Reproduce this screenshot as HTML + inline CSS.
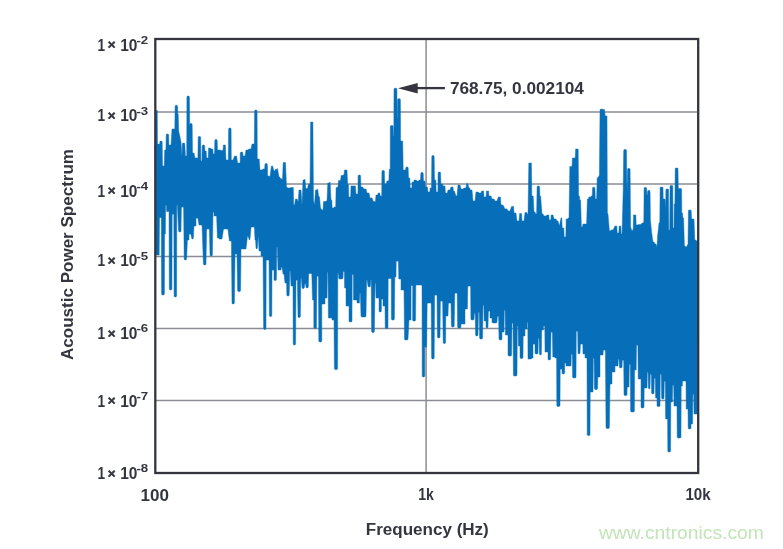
<!DOCTYPE html>
<html lang="en"><head><meta charset="utf-8"><title>Acoustic Power Spectrum</title>
<style>html,body{margin:0;padding:0;background:#fff}body{width:783px;height:549px;overflow:hidden}svg{display:block;will-change:transform}text{font-family:"Liberation Sans",sans-serif}</style></head><body>
<svg width="783" height="549" viewBox="0 0 783 549">
<rect width="783" height="549" fill="#fff"/>
<g stroke="#8b8d94" stroke-width="1.5" fill="none">
<line x1="155" y1="112.0" x2="698" y2="112.0"/>
<line x1="155" y1="184.0" x2="698" y2="184.0"/>
<line x1="155" y1="256.4" x2="698" y2="256.4"/>
<line x1="155" y1="328.5" x2="698" y2="328.5"/>
<line x1="155" y1="400.5" x2="698" y2="400.5"/>
<line x1="426.1" y1="39" x2="426.1" y2="473"/>
</g>
<path d="M154.8 146.0L155.8 146.0L155.9 110.5L157.3 110.5L157.5 146.0L157.3 144.9L157.9 144.0L159.3 144.0L159.8 144.9L159.8 150.0L159.8 141.9L160.3 141.0L161.7 141.0L162.2 141.9L162.5 166.0L163.4 166.0L164.2 166.0L164.7 150.0L165.5 150.0L165.9 150.0L166.2 134.9L166.7 134.0L168.1 134.0L168.7 134.9L168.9 145.0L170.0 145.0L171.0 145.0L172.0 129.0L174.0 129.0L174.8 129.0L175.1 106.2L175.6 105.3L177.0 105.3L177.6 106.2L177.8 114.0L178.2 114.0L178.7 131.0L179.4 134.0L181.0 142.0L182.0 157.0L182.3 143.9L182.9 143.0L184.3 143.0L184.8 143.9L185.4 156.0L186.4 156.0L186.7 156.0L186.9 96.9L187.5 96.0L188.9 96.0L189.4 96.9L189.7 124.6L189.5 125.6L189.8 124.5L190.3 123.6L191.7 123.6L192.2 124.5L192.5 153.0L193.0 153.0L194.0 153.0L195.0 158.0L197.0 158.0L197.9 158.0L198.2 137.3L198.7 136.4L200.1 136.4L200.7 137.3L200.9 161.0L201.4 161.0L201.9 161.0L202.2 145.9L202.7 145.0L204.1 145.0L204.7 145.9L204.9 151.0L205.4 151.0L206.2 151.0L206.6 158.0L208.2 158.0L208.6 148.0L210.4 148.0L211.0 149.0L212.8 149.0L213.2 154.0L214.0 154.0L214.5 154.0L214.8 140.5L215.3 139.6L216.7 139.6L217.2 140.5L217.5 150.0L218.0 150.0L220.0 150.0L221.0 150.4L223.0 150.4L223.4 145.0L225.4 145.0L226.0 160.0L228.0 160.0L228.3 160.0L228.6 128.9L229.1 128.0L230.5 128.0L231.1 128.9L231.3 160.0L232.0 160.0L233.0 160.0L234.6 156.0L236.6 156.0L237.6 163.0L239.6 163.0L240.1 163.0L240.3 152.9L240.9 152.0L242.3 152.0L242.8 152.9L243.1 156.0L244.0 156.0L245.0 156.0L246.0 150.0L248.0 150.0L249.0 149.0L251.0 149.0L252.0 144.0L254.0 144.0L254.3 144.0L254.6 110.9L255.1 110.0L256.5 110.0L257.1 110.9L257.3 159.0L258.2 159.0L259.2 159.0L260.0 170.0L262.0 170.0L263.0 169.0L264.0 169.0L264.7 169.0L264.9 164.5L265.5 163.6L266.9 163.6L267.4 164.5L267.7 176.0L268.6 176.0L270.0 176.5L271.4 166.0L272.6 166.0L274.0 171.0L274.8 171.0L275.2 169.5L276.0 169.5L277.5 168.5L279.0 177.0L279.8 177.0L280.2 178.5L281.0 178.5L282.5 179.5L283.2 162.5L284.1 162.5L284.6 162.5L285.5 162.5L286.5 187.0L288.0 188.0L289.0 188.0L291.5 187.5L293.3 187.5L293.7 205.0L294.5 205.0L295.5 199.0L297.0 199.0L298.2 202.0L299.0 190.0L299.8 190.0L300.2 190.0L301.0 190.0L302.0 205.0L303.0 180.0L303.8 180.0L304.2 179.5L305.0 179.5L305.8 188.5L307.5 188.5L308.5 184.0L310.0 184.0L310.6 122.0L311.6 122.0L311.9 122.0L312.9 122.0L313.5 200.0L314.5 205.0L315.5 190.0L316.4 190.0L316.9 189.5L317.8 189.5L318.5 196.0L319.5 197.0L320.5 208.0L322.0 210.0L323.0 210.0L323.5 201.5L325.5 201.5L326.0 201.0L327.0 201.0L327.8 183.0L328.8 183.0L329.2 182.5L330.2 182.5L331.0 200.0L331.8 200.0L332.2 208.0L333.8 208.0L334.2 207.0L335.7 207.0L336.1 187.5L336.8 187.5L338.0 187.0L338.5 180.5L339.3 180.5L339.7 180.5L340.5 180.5L341.2 175.5L342.2 175.5L343.0 175.0L344.0 175.0L344.5 170.0L345.5 170.0L346.0 170.0L347.0 170.0L347.6 184.0L348.4 184.0L348.8 197.0L350.6 197.0L351.0 186.0L353.0 186.0L353.4 186.0L355.4 186.0L356.0 194.0L357.0 194.0L357.9 194.0L358.1 175.9L358.7 175.0L360.1 175.0L360.6 175.9L360.9 187.0L361.6 187.0L362.6 187.0L364.0 189.0L366.0 189.0L367.0 193.0L369.0 193.0L370.0 198.0L372.0 198.0L373.4 201.6L375.4 201.6L376.0 195.0L377.8 195.0L378.2 193.0L379.8 193.0L380.2 196.0L381.0 196.0L381.7 196.0L381.9 171.3L382.5 170.4L383.9 170.4L384.4 171.3L384.7 184.0L385.2 184.0L386.2 184.0L387.0 181.0L388.0 181.0L388.9 180.5L389.2 169.3L390.2 169.3L390.3 126.4L390.8 125.6L391.6 125.6L391.9 125.6L392.7 125.6L393.1 126.4L393.4 136.0L393.8 136.0L394.0 89.0L394.5 88.2L395.2 88.2L395.6 88.2L396.4 88.2L396.9 89.0L397.1 118.0L397.4 118.0L397.6 99.6L398.1 98.8L398.9 98.8L399.2 98.8L400.0 98.8L400.4 99.6L400.6 141.0L401.4 141.0L401.9 141.0L402.7 141.0L403.2 170.0L404.5 170.0L405.5 170.0L405.8 167.9L406.3 167.0L407.7 167.0L408.2 167.9L408.5 178.0L409.0 178.0L409.8 178.0L410.2 188.0L411.8 188.0L412.2 182.0L413.8 182.0L414.2 180.0L416.0 180.0L417.0 181.0L418.8 181.0L419.2 180.0L420.0 180.0L420.5 180.0L420.8 173.3L421.3 172.4L422.7 172.4L423.2 173.3L423.5 181.0L424.0 181.0L425.0 181.0L425.4 187.0L427.4 187.0L428.0 192.0L429.8 192.0L430.2 188.0L431.0 188.0L431.5 188.0L431.8 156.5L432.3 155.6L433.7 155.6L434.2 156.5L434.5 180.0L435.0 180.0L435.8 180.0L436.2 192.0L437.0 192.0L437.9 192.0L438.1 172.9L438.7 172.0L440.1 172.0L440.6 172.9L440.9 184.0L441.6 184.0L442.6 184.0L443.0 186.0L445.0 186.0L445.4 193.0L447.4 193.0L448.0 190.0L450.0 190.0L451.0 187.0L453.0 187.0L453.4 191.0L454.4 191.0L456.0 196.0L457.0 196.0L458.0 185.0L460.0 185.0L461.0 189.0L463.0 189.0L464.0 188.0L466.0 188.0L466.6 183.6L467.6 183.6L469.0 188.0L469.8 188.0L470.2 190.0L472.0 190.0L473.0 201.0L475.0 201.0L476.0 192.0L478.0 192.0L479.0 193.0L481.0 193.0L481.6 191.0L483.6 191.0L484.0 197.0L486.0 197.0L486.6 191.0L488.6 191.0L489.0 196.0L491.0 196.0L492.0 199.0L494.0 199.0L495.0 201.0L497.0 201.0L498.4 197.0L500.4 197.0L501.0 205.0L503.0 205.0L505.0 209.0L507.0 209.0L508.0 211.0L510.0 211.0L511.6 206.4L513.6 206.4L514.0 213.0L516.0 213.0L517.0 221.0L519.0 221.0L519.6 213.6L521.6 213.6L522.0 221.0L524.0 221.0L525.0 212.4L526.8 212.4L527.2 214.0L528.0 214.0L528.8 163.0L529.8 163.0L530.4 163.0L531.4 163.0L531.8 196.0L533.2 196.0L534.0 212.0L535.0 212.0L535.6 214.0L536.6 214.0L537.1 186.9L537.7 186.0L539.1 186.0L539.6 186.9L539.9 196.0L540.6 196.0L542.0 214.0L543.0 214.0L544.0 216.0L546.0 216.0L547.0 215.0L548.8 215.0L549.2 220.0L550.8 220.0L551.2 215.0L553.0 215.0L554.0 219.0L556.0 219.0L557.0 221.0L558.0 221.0L559.4 226.0L561.0 218.0L561.8 218.0L562.2 228.0L563.8 228.0L564.2 237.0L565.8 237.0L566.2 219.0L567.8 219.0L568.2 218.0L569.0 218.0L569.8 166.4L570.7 166.4L571.1 166.4L572.0 166.4L572.4 158.0L573.4 158.0L574.2 158.0L575.2 158.0L575.6 149.0L576.6 149.0L577.2 149.0L578.2 149.0L578.6 196.0L579.4 196.0L579.8 200.0L580.6 200.0L581.4 227.0L582.4 227.0L583.0 224.0L585.0 224.0L585.6 224.0L586.6 224.0L587.4 199.0L588.4 199.0L589.0 197.0L590.9 197.0L591.3 196.0L592.2 196.0L592.6 187.4L593.5 187.4L594.0 187.4L594.9 187.4L595.3 199.0L596.6 199.0L597.2 178.0L598.4 177.0L599.4 175.0L600.0 110.0L600.8 109.0L601.8 109.0L603.5 109.5L604.5 109.5L605.2 116.0L605.9 116.0L606.3 116.0L607.0 116.0L607.4 213.0L608.0 214.0L609.4 231.0L610.4 231.0L611.0 230.0L613.0 230.0L615.0 226.0L616.8 226.0L617.2 233.0L618.8 233.0L619.2 226.0L620.8 226.0L621.2 234.0L622.0 234.0L623.2 190.0L623.7 150.4L624.2 149.6L625.0 149.6L625.4 149.6L626.1 149.6L626.5 150.4L626.8 180.0L627.1 192.0L627.5 169.2L628.0 168.4L628.6 168.4L629.1 168.4L629.7 168.4L630.1 169.2L630.6 227.0L632.0 231.0L633.2 229.0L633.5 215.0L634.4 215.0L634.9 215.0L635.8 215.0L636.2 225.0L637.2 225.0L639.0 224.4L641.0 224.4L642.0 223.0L643.0 223.0L643.8 222.0L644.1 188.2L644.5 187.5L645.2 187.5L645.6 187.5L646.3 187.5L646.7 189.0L646.9 195.0L647.3 195.0L647.6 191.2L648.0 190.5L648.6 190.5L649.1 190.5L649.7 190.5L650.1 192.0L650.4 220.0L651.6 232.0L653.0 242.0L654.0 242.0L655.0 244.0L656.0 244.0L657.0 247.0L657.6 236.0L659.0 223.0L659.8 222.0L660.1 188.0L660.5 187.0L661.4 187.0L661.8 187.0L662.6 187.0L663.0 188.0L663.2 199.0L664.8 199.0L665.2 200.0L665.6 210.0L665.9 190.0L666.3 189.0L667.0 189.0L667.5 189.0L668.2 189.0L668.5 190.0L668.8 230.0L669.7 230.0L670.0 186.5L670.4 185.5L671.2 185.5L671.6 185.5L672.4 185.5L672.8 186.5L673.0 228.0L674.0 228.0L674.2 204.0L674.9 204.0L675.2 169.0L675.6 168.0L676.4 168.0L676.8 168.0L677.6 168.0L678.0 169.0L678.3 188.5L679.3 188.5L680.2 188.5L681.2 188.5L681.6 190.0L681.8 213.0L682.5 213.0L682.9 218.0L683.6 218.0L684.4 246.0L685.2 246.0L685.6 247.0L686.4 247.0L688.0 244.0L688.4 211.0L688.8 210.0L689.6 210.0L690.0 210.0L690.8 210.0L691.2 211.0L691.6 219.0L692.6 219.0L693.0 219.0L694.0 219.0L694.8 240.0L695.8 240.0L696.5 241.0L698.5 241.0L697.5 414.0L694.0 414.0L693.7 394.8L693.4 394.0L693.2 394.0L692.9 394.8L692.6 424.0L691.0 424.0L691.0 428.1L690.4 429.0L688.8 429.0L688.2 428.1L688.0 409.0L686.2 409.0L686.0 381.8L685.5 381.0L682.9 381.0L682.4 381.8L682.4 386.0L681.2 386.0L681.0 437.1L680.4 438.0L677.8 438.0L677.2 437.1L677.0 406.0L674.0 406.0L673.7 385.8L673.3 385.0L673.1 385.0L672.7 385.8L672.4 402.0L670.8 402.0L670.6 451.1L670.0 452.0L668.4 452.0L667.8 451.1L667.6 419.0L665.6 419.0L665.3 381.8L664.9 381.0L664.7 381.0L664.3 381.8L664.0 398.1L663.4 399.0L662.2 399.0L661.6 398.1L661.3 374.8L660.9 374.0L660.7 374.0L660.3 374.8L660.0 405.7L659.4 406.6L657.6 406.6L657.0 405.7L657.0 398.0L655.6 398.0L655.3 378.8L654.9 378.0L654.7 378.0L654.3 378.8L654.0 393.1L653.4 394.0L652.2 394.0L651.6 393.1L651.3 374.8L650.9 374.0L650.7 374.0L650.3 374.8L650.0 388.1L649.4 389.0L649.0 389.0L648.4 388.1L648.1 372.8L647.8 372.0L647.6 372.0L647.3 372.8L647.0 388.0L644.2 388.0L644.0 407.1L643.4 408.0L641.6 408.0L641.0 407.1L641.0 379.0L638.2 379.0L637.9 345.8L637.4 345.0L637.0 345.0L636.5 345.8L636.2 370.0L634.6 370.0L634.4 411.1L633.8 412.0L631.2 412.0L630.6 411.1L630.3 364.8L629.9 364.0L629.7 364.0L629.3 364.8L629.0 387.0L627.2 387.0L627.0 394.7L626.4 395.6L624.6 395.6L624.0 394.7L623.7 360.8L623.2 360.0L622.8 360.0L622.3 360.8L622.0 367.1L621.4 368.0L620.0 368.0L619.4 367.1L619.1 359.8L618.8 359.0L618.6 359.0L618.3 359.8L618.0 366.0L615.0 366.0L615.0 372.0L612.0 372.0L612.0 384.0L610.0 384.0L609.4 427.5L608.8 428.4L606.6 428.4L606.0 427.5L605.4 350.8L604.9 350.0L603.8 350.0L603.3 350.8L603.0 355.0L600.0 355.0L600.0 377.0L597.8 377.0L597.6 388.6L597.0 389.5L595.0 389.5L594.4 388.6L594.1 358.8L593.8 358.0L593.6 358.0L593.3 358.8L593.0 392.0L590.2 392.0L590.0 434.7L589.4 435.6L587.8 435.6L587.2 434.7L587.0 358.0L585.0 358.0L585.0 354.0L583.0 354.0L582.8 344.8L582.3 344.0L580.9 344.0L580.4 344.8L580.0 353.1L579.4 354.0L578.6 354.0L578.0 353.1L577.7 331.8L577.2 331.0L576.8 331.0L576.3 331.8L576.0 377.1L575.4 378.0L573.2 378.0L572.6 377.1L572.3 354.8L571.9 354.0L571.7 354.0L571.3 354.8L571.0 366.0L566.0 366.0L566.0 363.0L564.8 363.0L564.6 373.1L564.0 374.0L562.6 374.0L562.0 373.1L562.0 369.8L561.5 369.0L560.7 369.0L560.2 369.8L560.0 405.5L559.4 406.4L557.4 406.4L556.8 405.5L556.6 358.0L555.0 358.0L555.0 357.0L552.8 357.0L552.4 332.8L551.9 332.0L551.5 332.0L551.0 332.8L550.6 359.1L550.0 360.0L548.6 360.0L548.0 359.1L548.0 352.0L545.0 352.0L544.8 326.8L544.3 326.0L543.9 326.0L543.4 326.8L543.4 330.0L541.7 330.0L541.4 354.1L540.8 355.0L540.0 355.0L539.4 354.1L539.1 338.8L538.8 338.0L538.6 338.0L538.3 338.8L538.0 353.1L537.4 354.0L535.6 354.0L535.0 353.1L535.0 344.8L534.5 344.0L533.5 344.0L533.0 344.8L533.0 358.0L531.4 358.0L531.4 359.0L528.0 359.0L527.8 322.8L527.6 322.0L527.4 322.0L527.2 322.8L527.0 329.0L525.0 329.0L525.0 336.0L523.2 336.0L523.0 357.5L522.4 358.4L520.6 358.4L520.0 357.5L520.0 346.0L518.4 346.0L518.1 326.8L517.8 326.0L517.6 326.0L517.3 326.8L517.0 375.1L516.4 376.0L514.0 376.0L513.4 375.1L513.0 323.8L512.6 323.0L512.4 323.0L512.0 323.8L511.6 355.1L511.0 356.0L508.6 356.0L508.0 355.1L508.0 335.0L505.4 335.0L505.1 310.8L504.8 310.0L504.6 310.0L504.3 310.8L504.0 332.0L502.0 332.0L502.0 339.1L501.4 340.0L499.6 340.0L499.0 339.1L498.6 316.8L498.2 316.0L497.8 316.0L497.4 316.8L497.0 322.1L496.4 323.0L492.6 323.0L492.0 322.1L492.0 318.0L490.0 318.0L490.0 311.8L489.5 311.0L488.9 311.0L488.4 311.8L488.0 327.1L487.4 328.0L486.6 328.0L486.0 327.1L486.0 321.0L484.2 321.0L483.8 305.8L483.5 305.0L483.3 305.0L483.0 305.8L482.6 338.1L482.0 339.0L480.2 339.0L479.6 338.1L479.2 312.8L478.9 312.0L478.7 312.0L478.4 312.8L478.0 335.1L477.4 336.0L476.2 336.0L475.6 335.1L475.2 313.8L474.9 313.0L474.7 313.0L474.4 313.8L474.0 319.1L473.4 320.0L471.5 320.0L470.9 319.1L470.6 286.8L470.1 286.0L468.3 286.0L467.8 286.8L467.4 309.0L465.0 309.0L465.0 324.0L461.0 324.0L461.0 327.1L460.4 328.0L458.2 328.0L457.6 327.1L457.2 293.8L456.7 293.0L455.3 293.0L454.8 293.8L454.2 326.1L453.6 327.0L452.0 327.0L451.4 326.1L451.0 303.8L450.5 303.0L448.9 303.0L448.4 303.8L448.0 316.0L445.8 316.0L445.6 342.7L445.0 343.6L443.8 343.6L443.2 342.7L442.6 301.8L442.1 301.0L440.9 301.0L440.4 301.8L440.0 337.1L439.4 338.0L438.0 338.0L437.4 337.1L437.0 295.8L436.5 295.0L435.1 295.0L434.6 295.8L434.2 358.1L433.6 359.0L432.2 359.0L431.6 358.1L431.2 303.8L430.7 303.0L427.7 303.0L427.2 303.8L426.6 347.0L424.8 347.0L424.8 376.1L424.2 377.0L422.8 377.0L422.2 376.1L422.0 285.8L421.5 285.0L416.3 285.0L415.8 285.8L415.6 320.1L415.0 321.0L413.2 321.0L412.6 320.1L412.7 286.3L412.2 285.5L411.6 285.5L411.1 286.3L411.0 320.0L409.0 320.0L408.0 339.1L407.4 340.0L405.1 340.0L404.5 339.1L404.0 290.0L401.0 290.0L401.0 279.0L398.8 279.0L398.4 261.8L397.9 261.0L396.7 261.0L396.2 261.8L396.0 277.0L394.8 277.0L394.4 319.1L393.8 320.0L392.0 320.0L391.4 319.1L391.3 279.3L390.8 278.5L388.7 278.5L388.2 279.3L388.0 327.5L387.4 328.4L385.8 328.4L385.2 327.5L385.0 306.0L383.0 306.0L383.0 299.8L382.5 299.0L381.9 299.0L381.4 299.8L381.4 311.1L380.8 312.0L379.6 312.0L379.0 311.1L379.0 298.0L376.0 298.0L375.6 283.8L375.4 283.0L375.2 283.0L375.0 283.8L374.4 331.5L373.8 332.4L372.2 332.4L371.6 331.5L371.2 280.8L371.1 280.0L370.9 280.0L370.8 280.8L370.4 286.1L369.8 287.0L368.6 287.0L368.0 286.1L367.2 280.8L367.0 280.0L366.8 280.0L366.6 280.8L366.0 316.1L365.4 317.0L361.6 317.0L361.0 316.1L360.4 293.8L360.2 293.0L360.0 293.0L359.8 293.8L359.4 303.0L357.0 303.0L357.0 300.0L353.4 300.0L353.4 275.3L353.0 274.5L352.6 274.5L352.2 275.3L352.0 321.1L351.4 322.0L349.6 322.0L349.0 321.1L349.0 306.0L346.0 306.0L346.0 288.0L344.6 288.0L344.4 272.3L344.0 271.5L343.6 271.5L343.2 272.3L343.0 278.1L342.4 279.0L339.3 279.0L338.7 278.1L338.5 274.3L338.3 273.5L338.0 273.5L337.8 274.3L337.6 368.7L337.0 369.6L335.0 369.6L334.4 368.7L334.0 320.0L332.0 320.0L332.0 318.0L328.4 318.0L328.0 272.8L327.8 272.0L327.6 272.0L327.4 272.8L327.0 298.0L325.0 298.0L325.0 304.0L321.8 304.0L321.8 341.1L321.2 342.0L319.4 342.0L318.8 341.1L318.4 276.8L317.9 276.0L317.4 276.0L316.9 276.8L316.5 327.6L315.9 328.5L314.4 328.5L313.8 327.6L313.8 300.0L312.5 300.0L311.8 274.3L311.3 273.5L309.2 273.5L308.7 274.3L308.3 287.1L307.7 288.0L306.6 288.0L306.0 287.1L305.6 284.3L305.3 283.5L305.1 283.5L304.8 284.3L304.4 287.6L303.8 288.5L302.6 288.5L302.0 287.6L301.4 278.8L301.2 278.0L301.0 278.0L300.8 278.8L300.4 316.7L299.8 317.6L298.6 317.6L298.0 316.7L297.4 280.8L296.9 280.0L296.5 280.0L296.0 280.8L295.6 344.1L295.0 345.0L293.8 345.0L293.2 344.1L293.0 286.0L291.0 286.0L290.4 271.8L290.2 271.0L290.0 271.0L289.8 271.8L289.2 295.1L288.6 296.0L287.4 296.0L286.8 295.1L286.6 283.0L285.0 283.0L284.0 274.0L283.0 274.0L282.0 267.0L281.4 267.0L281.0 270.0L278.0 270.0L277.4 247.8L277.2 247.0L277.0 247.0L276.8 247.8L276.4 279.7L275.8 280.6L274.6 280.6L274.0 279.7L274.0 270.8L273.5 270.0L272.5 270.0L272.0 270.8L271.8 315.7L271.2 316.6L270.0 316.6L269.4 315.7L269.0 260.8L268.5 260.0L266.7 260.0L266.2 260.8L266.0 328.5L265.4 329.4L264.2 329.4L263.6 328.5L263.0 256.0L261.0 256.0L261.0 251.0L259.0 251.0L258.4 237.0L258.2 237.0L257.4 248.1L256.8 249.0L256.6 249.0L256.0 248.1L255.6 240.0L255.0 240.0L254.4 227.8L253.9 227.0L251.5 227.0L251.0 227.8L250.0 239.1L249.6 240.0L249.4 240.0L249.0 239.1L248.2 236.8L247.9 236.0L247.7 236.0L247.4 236.8L246.0 249.0L241.0 249.0L240.6 290.7L240.0 291.6L238.2 291.6L237.6 290.7L237.0 254.8L236.5 254.0L235.5 254.0L235.0 254.8L234.4 303.1L233.8 304.0L232.6 304.0L232.0 303.1L231.4 241.0L229.4 241.0L228.0 229.8L227.5 229.0L223.9 229.0L223.4 229.8L222.0 239.0L219.0 239.0L219.0 238.0L217.4 238.0L216.6 216.0L214.0 216.0L214.0 212.8L213.6 212.0L213.4 212.0L213.0 212.8L212.4 255.1L211.8 256.0L210.6 256.0L210.0 255.1L209.4 229.8L208.9 229.0L207.1 229.0L206.6 229.8L206.0 264.1L205.4 265.0L204.0 265.0L203.4 264.1L202.0 225.0L199.0 225.0L198.0 218.8L197.5 218.0L196.5 218.0L196.0 218.8L196.0 226.0L194.0 226.0L193.4 238.1L192.8 239.0L192.2 239.0L191.6 238.1L191.0 234.8L190.5 234.0L189.5 234.0L189.0 234.8L189.0 240.0L187.4 240.0L186.6 259.1L186.0 260.0L184.8 260.0L184.2 259.1L183.6 207.8L183.1 207.0L181.9 207.0L181.4 207.8L181.0 231.1L180.4 232.0L179.2 232.0L178.6 231.1L177.4 205.8L177.2 205.0L177.0 205.0L176.8 205.8L176.6 296.1L176.0 297.0L174.7 297.0L174.1 296.1L173.8 214.8L173.3 214.0L172.7 214.0L172.2 214.8L171.9 289.1L171.3 290.0L169.9 290.0L169.3 289.1L169.0 211.5L166.6 211.5L166.4 205.8L166.1 205.0L165.9 205.0L165.6 205.8L165.4 234.0L164.6 234.0L164.4 294.1L163.8 295.0L162.2 295.0L161.6 294.1L161.3 218.3L160.8 217.5L160.0 217.5L159.5 218.3L159.2 255.0L156.0 255.0Z" fill="#076fba" stroke="#076fba" stroke-width="0.45" stroke-linejoin="round"/>
<rect x="155.3" y="39" width="542.9" height="434" fill="none" stroke="#33363f" stroke-width="2.3"/>
<path d="M398.0 88.2L417.7 82.9L417.7 93.5Z" fill="#33363f"/>
<line x1="417" y1="88.1" x2="444.9" y2="88.1" stroke="#33363f" stroke-width="2.3"/>
<text x="449.9" y="94.0" font-size="16" font-weight="bold" fill="#33363f" textLength="134.0" lengthAdjust="spacingAndGlyphs">768.75, 0.002104</text>
<text x="97.4" y="50.6" font-size="16" font-weight="bold" fill="#33363f" textLength="7.6" lengthAdjust="spacingAndGlyphs">1</text>
<text x="107.7" y="49.4" font-size="13.5" font-weight="bold" fill="#33363f" textLength="7.8" lengthAdjust="spacingAndGlyphs" stroke="#33363f" stroke-width="0.6">×</text>
<text x="120.2" y="50.6" font-size="16" font-weight="bold" fill="#33363f" textLength="17.2" lengthAdjust="spacingAndGlyphs">10</text>
<text x="136.4" y="44.0" font-size="11.8" font-weight="bold" fill="#33363f" textLength="11.8" lengthAdjust="spacingAndGlyphs">-2</text>
<text x="97.4" y="121.2" font-size="16" font-weight="bold" fill="#33363f" textLength="7.6" lengthAdjust="spacingAndGlyphs">1</text>
<text x="107.7" y="120.0" font-size="13.5" font-weight="bold" fill="#33363f" textLength="7.8" lengthAdjust="spacingAndGlyphs" stroke="#33363f" stroke-width="0.6">×</text>
<text x="120.2" y="121.2" font-size="16" font-weight="bold" fill="#33363f" textLength="17.2" lengthAdjust="spacingAndGlyphs">10</text>
<text x="136.4" y="114.6" font-size="11.8" font-weight="bold" fill="#33363f" textLength="11.8" lengthAdjust="spacingAndGlyphs">-3</text>
<text x="97.4" y="196.5" font-size="16" font-weight="bold" fill="#33363f" textLength="7.6" lengthAdjust="spacingAndGlyphs">1</text>
<text x="107.7" y="195.3" font-size="13.5" font-weight="bold" fill="#33363f" textLength="7.8" lengthAdjust="spacingAndGlyphs" stroke="#33363f" stroke-width="0.6">×</text>
<text x="120.2" y="196.5" font-size="16" font-weight="bold" fill="#33363f" textLength="17.2" lengthAdjust="spacingAndGlyphs">10</text>
<text x="136.4" y="189.9" font-size="11.8" font-weight="bold" fill="#33363f" textLength="11.8" lengthAdjust="spacingAndGlyphs">-4</text>
<text x="97.4" y="266.2" font-size="16" font-weight="bold" fill="#33363f" textLength="7.6" lengthAdjust="spacingAndGlyphs">1</text>
<text x="107.7" y="265.0" font-size="13.5" font-weight="bold" fill="#33363f" textLength="7.8" lengthAdjust="spacingAndGlyphs" stroke="#33363f" stroke-width="0.6">×</text>
<text x="120.2" y="266.2" font-size="16" font-weight="bold" fill="#33363f" textLength="17.2" lengthAdjust="spacingAndGlyphs">10</text>
<text x="136.4" y="259.6" font-size="11.8" font-weight="bold" fill="#33363f" textLength="11.8" lengthAdjust="spacingAndGlyphs">-5</text>
<text x="97.4" y="338.7" font-size="16" font-weight="bold" fill="#33363f" textLength="7.6" lengthAdjust="spacingAndGlyphs">1</text>
<text x="107.7" y="337.5" font-size="13.5" font-weight="bold" fill="#33363f" textLength="7.8" lengthAdjust="spacingAndGlyphs" stroke="#33363f" stroke-width="0.6">×</text>
<text x="120.2" y="338.7" font-size="16" font-weight="bold" fill="#33363f" textLength="17.2" lengthAdjust="spacingAndGlyphs">10</text>
<text x="136.4" y="332.1" font-size="11.8" font-weight="bold" fill="#33363f" textLength="11.8" lengthAdjust="spacingAndGlyphs">-6</text>
<text x="97.4" y="406.5" font-size="16" font-weight="bold" fill="#33363f" textLength="7.6" lengthAdjust="spacingAndGlyphs">1</text>
<text x="107.7" y="405.3" font-size="13.5" font-weight="bold" fill="#33363f" textLength="7.8" lengthAdjust="spacingAndGlyphs" stroke="#33363f" stroke-width="0.6">×</text>
<text x="120.2" y="406.5" font-size="16" font-weight="bold" fill="#33363f" textLength="17.2" lengthAdjust="spacingAndGlyphs">10</text>
<text x="136.4" y="399.9" font-size="11.8" font-weight="bold" fill="#33363f" textLength="11.8" lengthAdjust="spacingAndGlyphs">-7</text>
<text x="97.4" y="478.8" font-size="16" font-weight="bold" fill="#33363f" textLength="7.6" lengthAdjust="spacingAndGlyphs">1</text>
<text x="107.7" y="477.6" font-size="13.5" font-weight="bold" fill="#33363f" textLength="7.8" lengthAdjust="spacingAndGlyphs" stroke="#33363f" stroke-width="0.6">×</text>
<text x="120.2" y="478.8" font-size="16" font-weight="bold" fill="#33363f" textLength="17.2" lengthAdjust="spacingAndGlyphs">10</text>
<text x="136.4" y="472.2" font-size="11.8" font-weight="bold" fill="#33363f" textLength="11.8" lengthAdjust="spacingAndGlyphs">-8</text>
<text x="154.7" y="500.5" font-size="16" font-weight="bold" fill="#33363f" text-anchor="middle" textLength="28.4" lengthAdjust="spacingAndGlyphs">100</text>
<text x="426.0" y="499.9" font-size="16" font-weight="bold" fill="#33363f" text-anchor="middle" textLength="15.6" lengthAdjust="spacingAndGlyphs">1k</text>
<text x="698.0" y="499.6" font-size="16" font-weight="bold" fill="#33363f" text-anchor="middle" textLength="25.2" lengthAdjust="spacingAndGlyphs">10k</text>
<text x="427.3" y="535.1" font-size="16" font-weight="bold" fill="#33363f" text-anchor="middle" textLength="123.0" lengthAdjust="spacingAndGlyphs">Frequency (Hz)</text>
<text transform="translate(73.4,254.5) rotate(-90)" font-size="16.6" font-weight="bold" fill="#33363f" text-anchor="middle" textLength="211" lengthAdjust="spacingAndGlyphs">Acoustic Power Spectrum</text>
<text x="598.9" y="539.3" font-size="19" font-weight="normal" fill="#c2e4b8" textLength="165.0" lengthAdjust="spacingAndGlyphs">www.cntronics.com</text>
</svg></body></html>
